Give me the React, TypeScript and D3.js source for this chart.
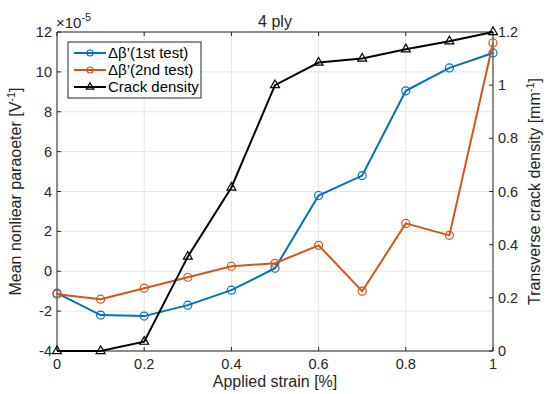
import { useEffect, useRef } from 'react';
import * as d3 from 'd3';

const strain = [0, 0.1, 0.2, 0.3, 0.4, 0.5, 0.6, 0.7, 0.8, 0.9, 1.0];
const test1 = [-1.1, -2.2, -2.25, -1.7, -0.95, 0.15, 3.8, 4.8, 9.05, 10.2, 10.95];
const test2 = [-1.15, -1.4, -0.85, -0.3, 0.25, 0.4, 1.3, -1.0, 2.4, 1.8, 11.45];
const crack = [0, 0, 0.035, 0.355, 0.615, 1.0, 1.085, 1.1, 1.135, 1.165, 1.2];

const xTicks = [0, 0.2, 0.4, 0.6, 0.8, 1];
const leftTicks = [-4, -2, 0, 2, 4, 6, 8, 10, 12];
const rightTicks = [0, 0.2, 0.4, 0.6, 0.8, 1, 1.2];

const BLUE = '#0072BD';
const ORANGE = '#D95319';
const AXIS = '#262626';
const FONT = 'Liberation Sans, Arial, sans-serif';
const TICK_FS = 14.5;
const LABEL_FS = 16;

export default function App() {
  const svgRef = useRef<SVGSVGElement>(null);

  useEffect(() => {
    if (!svgRef.current) return;
    const width = 548;
    const height = 394;
    const m = { left: 57, right: 55, top: 32, bottom: 43 };
    const svg = d3.select(svgRef.current);
    svg.selectAll('*').remove();
    svg.attr('width', width).attr('height', height);

    svg.append('rect').attr('width', width).attr('height', height).attr('fill', 'white');

    const x = d3.scaleLinear().domain([0, 1]).range([m.left, width - m.right]);
    const yL = d3.scaleLinear().domain([-4, 12]).range([height - m.bottom, m.top]);
    const yR = d3.scaleLinear().domain([0, 1.2]).range([height - m.bottom, m.top]);

    const x0 = x(0), x1 = x(1), y0 = yL(-4), y1 = yL(12);

    // grid
    const grid = svg.append('g').attr('stroke', '#e6e6e6').attr('stroke-width', 1);
    xTicks.forEach((t) => {
      grid.append('line').attr('x1', x(t)).attr('x2', x(t)).attr('y1', y0).attr('y2', y1);
    });
    leftTicks.forEach((t) => {
      grid.append('line').attr('x1', x0).attr('x2', x1).attr('y1', yL(t)).attr('y2', yL(t));
    });

    // axes
    const ax = svg.append('g').attr('stroke', AXIS).attr('stroke-width', 1).attr('fill', 'none');
    ax.append('line').attr('x1', x0).attr('x2', x1).attr('y1', y0).attr('y2', y0);
    ax.append('line').attr('x1', x0).attr('x2', x1).attr('y1', y1).attr('y2', y1);
    ax.append('line').attr('x1', x0).attr('x2', x0).attr('y1', y0).attr('y2', y1);
    ax.append('line').attr('x1', x1).attr('x2', x1).attr('y1', y0).attr('y2', y1);

    const tickLen = 4;
    const txt = svg.append('g').attr('font-family', FONT).attr('fill', AXIS).attr('font-size', TICK_FS);

    xTicks.forEach((t) => {
      ax.append('line').attr('x1', x(t)).attr('x2', x(t)).attr('y1', y0).attr('y2', y0 - tickLen);
      ax.append('line').attr('x1', x(t)).attr('x2', x(t)).attr('y1', y1).attr('y2', y1 + tickLen);
      txt.append('text').attr('x', x(t)).attr('y', y0 + 18).attr('text-anchor', 'middle').text(String(t));
    });
    leftTicks.forEach((t) => {
      ax.append('line').attr('x1', x0).attr('x2', x0 + tickLen).attr('y1', yL(t)).attr('y2', yL(t));
      txt.append('text').attr('x', x0 - 5).attr('y', yL(t)).attr('dy', '0.35em')
        .attr('text-anchor', 'end').text(t < 0 ? `-${-t}` : String(t));
    });
    rightTicks.forEach((t) => {
      ax.append('line').attr('x1', x1).attr('x2', x1 - tickLen).attr('y1', yR(t)).attr('y2', yR(t));
      txt.append('text').attr('x', x1 + 5).attr('y', yR(t)).attr('dy', '0.35em')
        .attr('text-anchor', 'start').text(String(t));
    });

    // exponent
    const ex = txt.append('text').attr('x', x0 - 1).attr('y', y1 - 4).attr('font-size', 15);
    ex.append('tspan').text('\u00d710');
    ex.append('tspan').attr('dy', -7).attr('font-size', 11).text('-5');

    // title
    txt.append('text').attr('x', (x0 + x1) / 2).attr('y', y1 - 5).attr('text-anchor', 'middle')
      .attr('font-size', LABEL_FS).text('4 ply');

    // axis labels
    txt.append('text').attr('x', (x0 + x1) / 2).attr('y', y0 + 36).attr('text-anchor', 'middle')
      .attr('font-size', LABEL_FS).text('Applied strain [%]');
    const ll = txt.append('text').attr('transform', `translate(21,${(y0 + y1) / 2}) rotate(-90)`)
      .attr('text-anchor', 'middle').attr('font-size', LABEL_FS);
    ll.append('tspan').text('Mean nonliear paraoeter [V');
    ll.append('tspan').attr('dy', -6).attr('font-size', 11).text('-1');
    ll.append('tspan').attr('dy', 6).text(']');
    const rl = txt.append('text').attr('transform', `translate(${x1 + 47},${(y0 + y1) / 2}) rotate(-90)`)
      .attr('text-anchor', 'middle').attr('font-size', LABEL_FS);
    rl.append('tspan').text('Transverse crack density [mm');
    rl.append('tspan').attr('dy', -6).attr('font-size', 11).text('-1');
    rl.append('tspan').attr('dy', 6).text(']');

    // series
    const drawSeries = (vals: number[], y: d3.ScaleLinear<number, number>, color: string, marker: 'o' | '^') => {
      const line = d3.line<number>().x((_, i) => x(strain[i])).y((d) => y(d));
      svg.append('path').datum(vals).attr('d', line).attr('fill', 'none')
        .attr('stroke', color).attr('stroke-width', 2);
      const g = svg.append('g');
      vals.forEach((v, i) => {
        if (marker === 'o') {
          g.append('circle').attr('cx', x(strain[i])).attr('cy', y(v)).attr('r', 4)
            .attr('fill', 'none').attr('stroke', color).attr('stroke-width', 1.2);
        } else {
          g.append('path').attr('d', d3.symbol(d3.symbolTriangle, 34)())
            .attr('transform', `translate(${x(strain[i])},${y(v)})`)
            .attr('fill', 'none').attr('stroke', color).attr('stroke-width', 1.2);
        }
      });
    };
    drawSeries(test1, yL, BLUE, 'o');
    drawSeries(test2, yL, ORANGE, 'o');
    drawSeries(crack, yR, 'black', '^');

    // legend
    const lg = svg.append('g');
    const lx = 68, ly = 42, lw = 133, lh = 56;
    lg.append('rect').attr('x', lx).attr('y', ly).attr('width', lw).attr('height', lh)
      .attr('fill', 'white').attr('stroke', '#262626').attr('stroke-width', 1);
    const items = [
      { label: '\u0394\u03b2\u2019(1st test)', color: BLUE, m: 'o' },
      { label: '\u0394\u03b2\u2019(2nd test)', color: ORANGE, m: 'o' },
      { label: 'Crack density', color: 'black', m: '^' },
    ];
    items.forEach((it, i) => {
      const cy = ly + 11 + i * 17;
      lg.append('line').attr('x1', lx + 6).attr('x2', lx + 38).attr('y1', cy).attr('y2', cy)
        .attr('stroke', it.color).attr('stroke-width', 2);
      if (it.m === 'o') {
        lg.append('circle').attr('cx', lx + 22).attr('cy', cy).attr('r', 3)
          .attr('fill', 'none').attr('stroke', it.color).attr('stroke-width', 1.2);
      } else {
        lg.append('path').attr('d', d3.symbol(d3.symbolTriangle, 24)())
          .attr('transform', `translate(${lx + 22},${cy})`)
          .attr('fill', 'none').attr('stroke', it.color).attr('stroke-width', 1.2);
      }
      lg.append('text').attr('x', lx + 40).attr('y', cy).attr('dy', '0.35em')
        .attr('font-family', FONT).attr('font-size', 15).attr('fill', 'black').text(it.label);
    });
  }, []);

  return <svg ref={svgRef} style={{ position: 'absolute', left: 0, top: 0 }} />;
}
